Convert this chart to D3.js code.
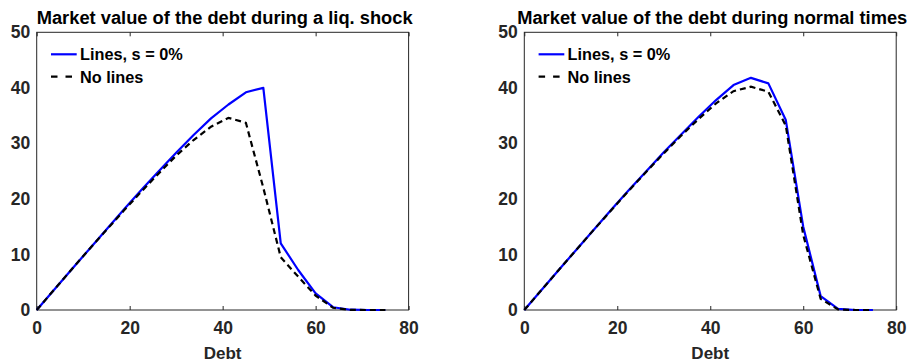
<!DOCTYPE html>
<html>
<head>
<meta charset="utf-8">
<script src="https://cdn.jsdelivr.net/npm/d3@7"></script>
<style>
  html, body { margin: 0; padding: 0; background: #fff; }
  svg { display: block; font-family: "Liberation Sans", Arial, Helvetica, sans-serif; font-weight: bold; }
</style>
</head>
<body>
<svg id="chart" width="910" height="364"></svg>
<script>
// Debt grid shared by all curves
const debt = [0, 3.75, 7.5, 11.25, 15, 18.75, 22.5, 26.25, 30, 33.75, 37.5, 41.25,
              45, 48.75, 52.5, 56.25, 60, 63.75, 67.5, 71.25, 75];

// Liquidity shock panel
const shockLines   = [0, 3.65, 7.3, 10.9, 14.5, 18.1, 21.6, 25.0, 28.3, 31.5, 34.5, 37.0,
                      39.2, 40.0, 12.0, 7.2, 3.0, 0.5, 0.05, 0, 0];
const shockNoLines = [0, 3.65, 7.3, 10.9, 14.4, 17.9, 21.3, 24.6, 27.8, 30.6, 33.0, 34.6,
                      33.7, 22.0, 9.5, 6.0, 2.6, 0.4, 0.02, 0, 0];

// Normal times panel
const normalLines   = [0, 3.65, 7.3, 10.9, 14.5, 18.1, 21.6, 25.0, 28.4, 31.6, 34.8, 37.8,
                       40.5, 41.8, 40.8, 34.2, 15.0, 2.5, 0.2, 0, 0];
const normalNoLines = [0, 3.65, 7.3, 10.9, 14.5, 18.0, 21.5, 24.9, 28.2, 31.4, 34.4, 37.2,
                       39.4, 40.2, 39.3, 33.2, 13.5, 2.0, 0.1, 0, 0];

const titles = ["Market value of the debt during a liq. shock",
                "Market value of the debt during normal times"];
const legendLabels = ["Lines, s = 0%", "No lines"];
const xTicks = [0, 20, 40, 60, 80];
const yTicks = [0, 10, 20, 30, 40, 50];
const xLabel = "Debt";

const panels = [
  { title: titles[0], lines: shockLines,  noLines: shockNoLines,  left: 36.7 },
  { title: titles[1], lines: normalLines, noLines: normalNoLines, left: 524.3 }
];

const svg = d3.select("#chart");
const axW = 371.9, axTop = 32.3, axBottom = 310;
const ink = "#262626";

panels.forEach(p => {
  const x = d3.scaleLinear().domain([0, 80]).range([p.left, p.left + axW]);
  const y = d3.scaleLinear().domain([0, 50]).range([axBottom, axTop]);
  const g = svg.append("g");

  // bottom axis with inward ticks
  const xb = g.append("g").attr("transform", `translate(0,${axBottom})`)
    .call(d3.axisBottom(x).tickValues(xTicks).tickSizeInner(-4).tickSizeOuter(0).tickPadding(12));
  // top axis ticks, no labels
  const xt = g.append("g").attr("transform", `translate(0,${axTop})`)
    .call(d3.axisTop(x).tickValues(xTicks).tickSizeInner(-4).tickSizeOuter(0).tickFormat(""));
  // left axis labels
  const yl = g.append("g").attr("transform", `translate(${p.left},0)`)
    .call(d3.axisLeft(y).tickValues(yTicks).tickSizeInner(0).tickSizeOuter(0).tickPadding(6.5));

  [xb, xt, yl].forEach(a => {
    a.select(".domain").remove();
    a.selectAll("line").attr("stroke", ink).attr("stroke-width", 1);
    a.selectAll("text").attr("fill", ink).style("font-size", "17.5px")
      .style("font-family", "'Liberation Sans', Arial, sans-serif").style("font-weight", "bold");
  });

  // axes box
  g.append("rect")
    .attr("x", p.left).attr("y", axTop)
    .attr("width", axW).attr("height", axBottom - axTop)
    .attr("fill", "none").attr("stroke", ink).attr("stroke-width", 1);

  const line = d3.line().x((d, i) => x(debt[i])).y(d => y(d));

  g.append("path").datum(p.lines)
    .attr("d", line).attr("fill", "none")
    .attr("stroke", "#0000ff").attr("stroke-width", 2.2).attr("stroke-linejoin", "round");

  g.append("path").datum(p.noLines)
    .attr("d", line).attr("fill", "none")
    .attr("stroke", "#000").attr("stroke-width", 2.2).attr("stroke-dasharray", "6,4");

  // title
  g.append("text")
    .attr("x", p.left + axW / 2 + 2).attr("y", 24)
    .attr("text-anchor", "middle").attr("fill", "#000")
    .style("font-size", "18.3px").text(p.title);

  // x axis label
  g.append("text")
    .attr("x", p.left + axW / 2).attr("y", 359)
    .attr("text-anchor", "middle").attr("fill", ink)
    .style("font-size", "17px").text(xLabel);

  // legend
  const lg = g.append("g").attr("transform", `translate(${p.left},0)`);
  const rows = [
    { label: legendLabels[0], stroke: "#0000ff", dash: null, yPos: 54.3 },
    { label: legendLabels[1], stroke: "#000", dash: "6.5,8", yPos: 76.7 }
  ];
  rows.forEach(r => {
    lg.append("line")
      .attr("x1", 14.3).attr("x2", 40).attr("y1", r.yPos).attr("y2", r.yPos)
      .attr("stroke", r.stroke).attr("stroke-width", 2.2)
      .attr("stroke-dasharray", r.dash);
    lg.append("text")
      .attr("x", 43.3).attr("y", r.yPos).attr("dy", "0.36em")
      .attr("fill", "#000").style("font-size", "16.3px").text(r.label);
  });
});
</script>
</body>
</html>
